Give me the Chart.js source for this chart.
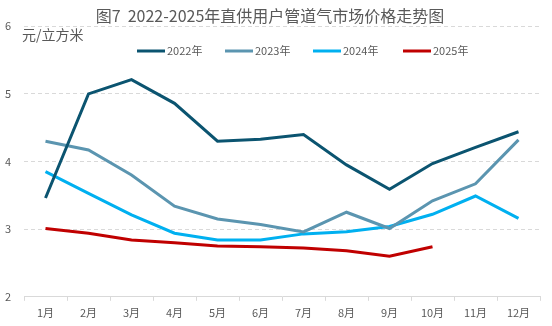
<!DOCTYPE html>
<html><head><meta charset="utf-8">
<script src="https://cdn.jsdelivr.net/npm/chart.js@4/dist/chart.umd.min.js"></script>
<style>html,body{margin:0;padding:0;background:#fff}#wrap{width:552px;height:326px}</style>
</head><body><div id="wrap"><canvas id="c" width="552" height="326"></canvas></div>
<script>
const months = ["1月","2月","3月","4月","5月","6月","7月","8月","9月","10月","11月","12月"];
const s2022 = [3.46,5.00,5.21,4.86,4.30,4.33,4.40,3.95,3.59,3.97,4.21,4.44];
const s2023 = [4.30,4.17,3.80,3.34,3.15,3.07,2.96,3.25,3.01,3.42,3.67,4.32];
const s2024 = [3.85,3.53,3.21,2.94,2.84,2.84,2.93,2.96,3.04,3.22,3.49,3.16];
const s2025 = [3.01,2.94,2.84,2.80,2.75,2.74,2.72,2.68,2.60,2.74];
const seriesNames = ["2022年","2023年","2024年","2025年"];
const colors = ["#0B5470","#5B95B0","#00B0F0","#C00000"];
const titleText = "图7  2022-2025年直供用户管道气市场价格走势图";
const unitText = "元/立方米";
const FONT = "'Noto Sans CJK SC', 'Microsoft YaHei', sans-serif";

const overlay = {
  id: 'overlay',
  afterDraw(chart) {
    const ctx = chart.ctx;
    ctx.save();
    ctx.fillStyle = '#595959';
    ctx.font = '14px ' + FONT;
    ctx.textBaseline = 'middle';
    ctx.textAlign = 'left';
    ctx.fillText(unitText, 22, 35);
    // legend
    const xs = [137, 225, 313, 403];
    ctx.font = '11px ' + FONT;
    chart.data.datasets.forEach((ds, i) => {
      ctx.strokeStyle = ds.borderColor;
      ctx.lineWidth = 3;
      ctx.beginPath();
      ctx.moveTo(xs[i], 51);
      ctx.lineTo(xs[i] + 28, 51);
      ctx.stroke();
      ctx.fillStyle = '#595959';
      ctx.fillText(ds.label, xs[i] + 30, 51);
    });
    ctx.restore();
  }
};

const datasets = [s2022, s2023, s2024, s2025].map((d, i) => ({
  label: seriesNames[i], data: d, borderColor: colors[i], backgroundColor: colors[i],
  borderWidth: 3, pointRadius: 0, tension: 0, fill: false
}));

new Chart(document.getElementById('c'), {
  type: 'line',
  data: { labels: months, datasets },
  plugins: [overlay],
  options: {
    responsive: false, animation: false,
    layout: { padding: { left: 0, right: 12, top: 0, bottom: 2 } },
    plugins: {
      legend: { display: false },
      tooltip: { enabled: false },
      title: { display: true, text: titleText, color: '#595959',
        font: { family: FONT, size: 16, weight: 'normal' }, padding: { top: 6, bottom: 1 } }
    },
    scales: {
      x: {
        offset: true,
        grid: { offset: true, drawOnChartArea: false, drawTicks: true, tickLength: 4, color: '#d9d9d9' },
        border: { color: '#d9d9d9' },
        ticks: { color: '#595959', font: { family: FONT, size: 11 }, padding: 5, maxRotation: 0 }
      },
      y: {
        min: 2, max: 6,
        afterFit(s) { s.width = 24; },
        border: { display: false, dash: [4, 3] },
        grid: { color: '#d9d9d9', drawTicks: false },
        ticks: { stepSize: 1, color: '#595959', font: { family: FONT, size: 11 }, padding: 13 }
      }
    }
  }
});
</script></body></html>
